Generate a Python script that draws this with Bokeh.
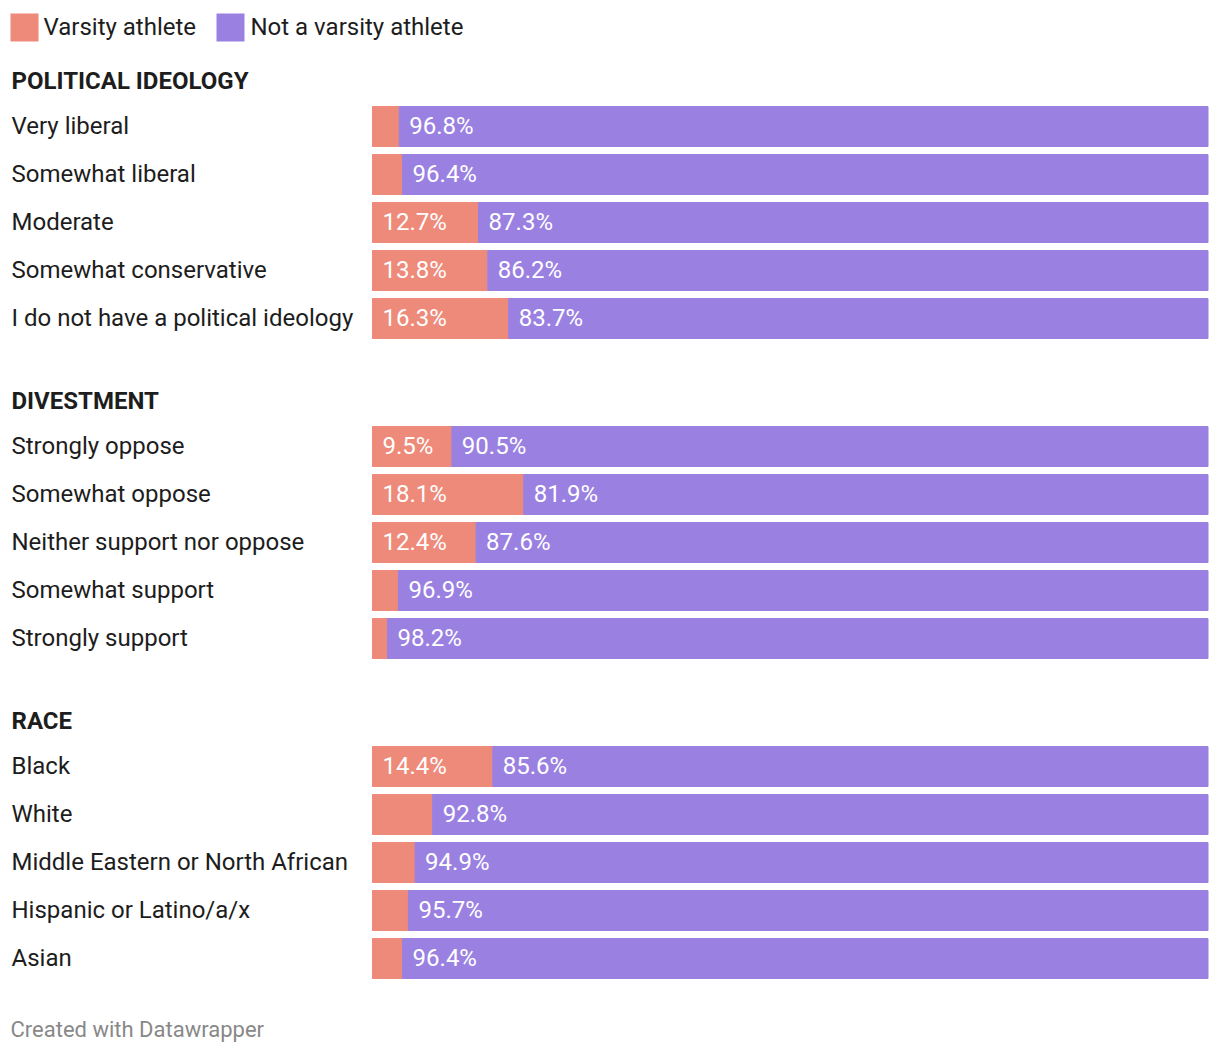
from bokeh.plotting import figure
from bokeh.models import Range1d, ColumnDataSource
from bokeh.core.properties import value
from bokeh.embed import file_html
from bokeh.resources import INLINE

groups = ["POLITICAL IDEOLOGY", "DIVESTMENT", "RACE"]
categories = [
    ["Very liberal", "Somewhat liberal", "Moderate", "Somewhat conservative",
     "I do not have a political ideology"],
    ["Strongly oppose", "Somewhat oppose", "Neither support nor oppose",
     "Somewhat support", "Strongly support"],
    ["Black", "White", "Middle Eastern or North African",
     "Hispanic or Latino/a/x", "Asian"],
]
varsity = [
    [3.2, 3.6, 12.7, 13.8, 16.3],
    [9.5, 18.1, 12.4, 3.1, 1.8],
    [14.4, 7.2, 5.1, 4.3, 3.6],
]
not_varsity = [
    [96.8, 96.4, 87.3, 86.2, 83.7],
    [90.5, 81.9, 87.6, 96.9, 98.2],
    [85.6, 92.8, 94.9, 95.7, 96.4],
]
series_names = ["Varsity athlete", "Not a varsity athlete"]
colors = ["#EE8A7A", "#9A81E1"]
label_show = 8.0  # show varsity label only when segment wide enough

FONT = "Roboto"
W, H = 1212, 1048
X0, Y0 = 0, 0
BAR_LEFT, BAR_W = 372, 835.5  # page px
px_per = BAR_W / 100.0


def px2x(px):
    return (px - BAR_LEFT) / px_per


p = figure(width=W, height=H, output_backend="svg", toolbar_location=None,
           x_axis_type=None, y_axis_type=None, min_border=0,
           x_range=Range1d(px2x(X0), px2x(X0 + W)), y_range=Range1d(Y0 + H, Y0))
p.outline_line_color = None
p.grid.visible = False

ys, vals, nvals, cats = [], [], [], []
heads_y = []
for g, name in enumerate(groups):
    heads_y.append(80 + 320 * g)
    for i, c in enumerate(categories[g]):
        ys.append(126 + 320 * g + 48 * i)
        cats.append(c)
        vals.append(varsity[g][i])
        nvals.append(not_varsity[g][i])

src = ColumnDataSource(dict(
    y=ys, cat=cats,
    ty=[y - 1 for y in ys],
    zero=[0] * len(ys),
    vend=vals,
    nvend=[a + b for a, b in zip(vals, nvals)],
    vlab=[f"{v:.1f}%" if v >= label_show else "" for v in vals],
    nvlab=[f"{v:.1f}%" for v in nvals],
    vlx=[px2x(BAR_LEFT + 10) for _ in vals],
    nvlx=[v + 10 / px_per for v in vals],
    catx=[px2x(11) for _ in vals],
))

p.hbar(y="y", left="zero", right="vend", height=40, color=colors[0], source=src)
p.hbar(y="y", left="vend", right="nvend", height=40, color=colors[1], source=src)

FS = "24px"
p.text(x="catx", y="ty", text="cat", source=src, text_font=value(FONT),
       text_font_size=FS, text_color="#1d1d1d", text_baseline="middle")
p.text(x="vlx", y="ty", text="vlab", source=src, text_font=value(FONT),
       text_font_size=FS, text_color="white", text_baseline="middle")
p.text(x="nvlx", y="ty", text="nvlab", source=src, text_font=value(FONT),
       text_font_size=FS, text_color="white", text_baseline="middle")

p.text(x=[px2x(11)] * 3, y=heads_y, text=groups, text_font=value(FONT),
       text_font_size=FS, text_font_style="bold", text_color="#1d1d1d",
       text_baseline="middle")

# legend
leg_sq_px = [10, 216]
leg_txt_px = [43, 250]
p.quad(left=[px2x(a) for a in leg_sq_px], right=[px2x(a + 28) for a in leg_sq_px],
       top=[13, 13], bottom=[41, 41], color=colors, line_color=None)
p.text(x=[px2x(a) for a in leg_txt_px], y=[26, 26], text=series_names,
       text_font=value(FONT), text_font_size=FS, text_color="#1d1d1d",
       text_baseline="middle")

p.text(x=[px2x(10)], y=[1029], text=["Created with Datawrapper"],
       text_font=value(FONT), text_font_size="22px", text_color="#888888",
       text_baseline="middle")

open("out.html", "w").write(file_html(p, INLINE))
